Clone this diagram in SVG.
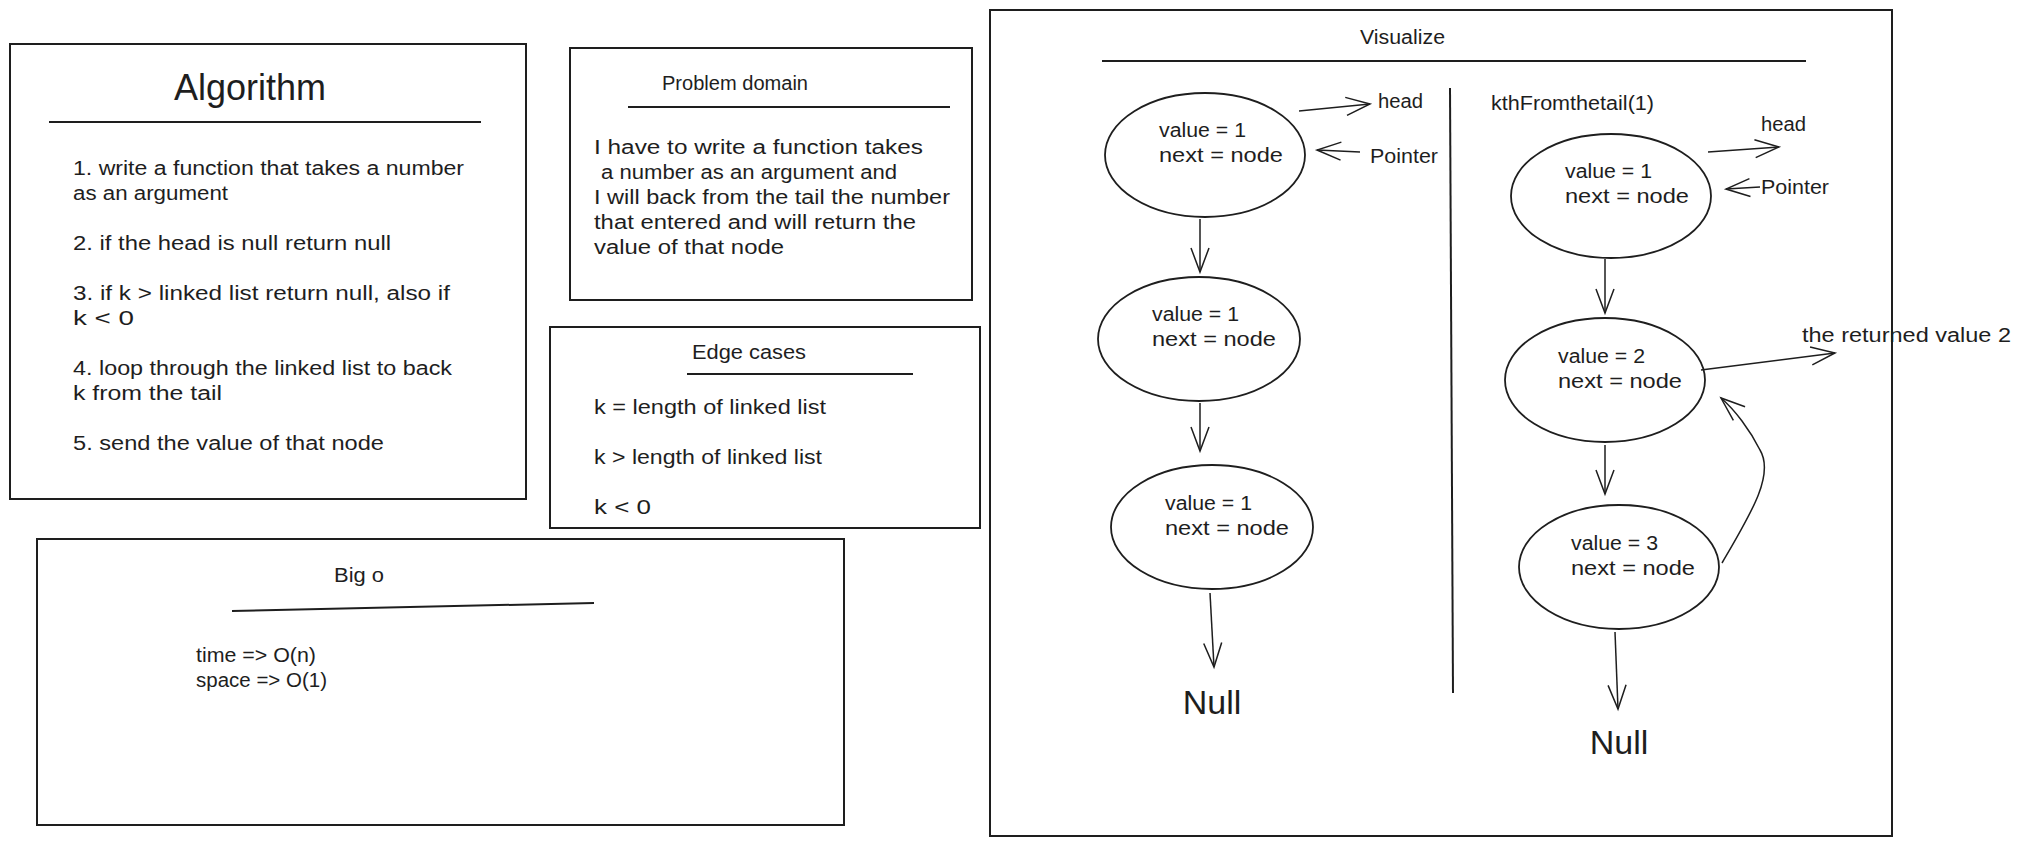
<svg xmlns="http://www.w3.org/2000/svg" width="2021" height="845" viewBox="0 0 2021 845">
<style>
.box{fill:none;stroke:#1e1e1e;stroke-width:2}
.ln{fill:none;stroke:#1e1e1e;stroke-width:2}
.el{fill:none;stroke:#1e1e1e;stroke-width:1.8}
.ar{fill:none;stroke:#1e1e1e;stroke-width:1.5;marker-end:url(#ah)}
text{font-family:"Liberation Sans","DejaVu Sans",sans-serif;fill:#1e1e1e;font-size:20px}
.big{font-size:36px}
.null{font-size:34px}
</style>
<defs>
<marker id="ah" viewBox="-28 -12 32 24" refX="0" refY="0" markerWidth="32" markerHeight="24" markerUnits="userSpaceOnUse" orient="auto">
<path d="M-24,-9 L0,0 L-24,9" fill="none" stroke="#1e1e1e" stroke-width="1.5"/>
</marker>
</defs>
<rect width="2021" height="845" fill="#ffffff"/>

<g id="algorithm">
<rect class="box" x="10" y="44" width="516" height="455"/>
<text class="big" x="174" y="100">Algorithm</text>
<line class="ln" x1="49" y1="122" x2="481" y2="122"/>
<text x="73" y="175" textLength="391" lengthAdjust="spacingAndGlyphs">1. write a function that takes a number</text>
<text x="73" y="200" textLength="155" lengthAdjust="spacingAndGlyphs">as an argument</text>
<text x="73" y="250" textLength="318" lengthAdjust="spacingAndGlyphs">2. if the head is null return null</text>
<text x="73" y="300" textLength="377" lengthAdjust="spacingAndGlyphs">3. if k &gt; linked list return null, also if</text>
<text x="73" y="325" textLength="61" lengthAdjust="spacingAndGlyphs">k &lt; 0</text>
<text x="73" y="375" textLength="379" lengthAdjust="spacingAndGlyphs">4. loop through the linked list to back</text>
<text x="73" y="400" textLength="149" lengthAdjust="spacingAndGlyphs">k from the tail</text>
<text x="73" y="450" textLength="311" lengthAdjust="spacingAndGlyphs">5. send the value of that node</text>
</g>

<g id="problem-domain">
<rect class="box" x="570" y="48" width="402" height="252"/>
<text x="662" y="90" textLength="146" lengthAdjust="spacingAndGlyphs">Problem domain</text>
<line class="ln" x1="628" y1="107" x2="950" y2="107"/>
<text x="594" y="154" textLength="329" lengthAdjust="spacingAndGlyphs">I have to write a function takes</text>
<text x="601" y="179" textLength="296" lengthAdjust="spacingAndGlyphs">a number as an argument and</text>
<text x="594" y="204" textLength="356" lengthAdjust="spacingAndGlyphs">I will back from the tail the number</text>
<text x="594" y="229" textLength="322" lengthAdjust="spacingAndGlyphs">that entered and will return the</text>
<text x="594" y="254" textLength="190" lengthAdjust="spacingAndGlyphs">value of that node</text>
</g>

<g id="edge-cases">
<rect class="box" x="550" y="327" width="430" height="201"/>
<text x="692" y="359" textLength="114" lengthAdjust="spacingAndGlyphs">Edge cases</text>
<line class="ln" x1="687" y1="374" x2="913" y2="374"/>
<text x="594" y="414" textLength="232" lengthAdjust="spacingAndGlyphs">k = length of linked list</text>
<text x="594" y="464" textLength="228" lengthAdjust="spacingAndGlyphs">k &gt; length of linked list</text>
<text x="594" y="514" textLength="57" lengthAdjust="spacingAndGlyphs">k &lt; 0</text>
</g>

<g id="big-o">
<rect class="box" x="37" y="539" width="807" height="286"/>
<text x="334" y="582" textLength="50" lengthAdjust="spacingAndGlyphs">Big o</text>
<line class="ln" x1="232" y1="611" x2="594" y2="603"/>
<text x="196" y="662" textLength="120" lengthAdjust="spacingAndGlyphs">time =&gt; O(n)</text>
<text x="196" y="687" textLength="131" lengthAdjust="spacingAndGlyphs">space =&gt; O(1)</text>
</g>

<g id="visualize">
<rect class="box" x="990" y="10" width="902" height="826"/>
<text x="1360" y="44" textLength="85" lengthAdjust="spacingAndGlyphs">Visualize</text>
<line class="ln" x1="1102" y1="61" x2="1806" y2="61"/>
<line class="ln" x1="1450" y1="88" x2="1453" y2="693"/>
<text x="1491" y="110" textLength="163" lengthAdjust="spacingAndGlyphs">kthFromthetail(1)</text>
</g>

<g id="node-l1">
<ellipse class="el" cx="1205" cy="155" rx="100" ry="62"/>
<text x="1159" y="137" textLength="87" lengthAdjust="spacingAndGlyphs">value = 1</text>
<text x="1159" y="162" textLength="124" lengthAdjust="spacingAndGlyphs">next = node</text>
</g>
<g id="node-l2">
<ellipse class="el" cx="1199" cy="339" rx="101" ry="62"/>
<text x="1152" y="321" textLength="87" lengthAdjust="spacingAndGlyphs">value = 1</text>
<text x="1152" y="346" textLength="124" lengthAdjust="spacingAndGlyphs">next = node</text>
</g>
<g id="node-l3">
<ellipse class="el" cx="1212" cy="527" rx="101" ry="62"/>
<text x="1165" y="510" textLength="87" lengthAdjust="spacingAndGlyphs">value = 1</text>
<text x="1165" y="535" textLength="124" lengthAdjust="spacingAndGlyphs">next = node</text>
</g>
<g id="null-l">
<text class="null" x="1212" y="714" text-anchor="middle">Null</text>
</g>
<g id="label-head-l"><text x="1378" y="108" textLength="45" lengthAdjust="spacingAndGlyphs">head</text></g>
<g id="label-pointer-l"><text x="1370" y="163" textLength="68" lengthAdjust="spacingAndGlyphs">Pointer</text></g>

<g id="node-r1">
<ellipse class="el" cx="1611" cy="196" rx="100" ry="62"/>
<text x="1565" y="178" textLength="87" lengthAdjust="spacingAndGlyphs">value = 1</text>
<text x="1565" y="203" textLength="124" lengthAdjust="spacingAndGlyphs">next = node</text>
</g>
<g id="node-r2">
<ellipse class="el" cx="1605" cy="380" rx="100" ry="62"/>
<text x="1558" y="363" textLength="87" lengthAdjust="spacingAndGlyphs">value = 2</text>
<text x="1558" y="388" textLength="124" lengthAdjust="spacingAndGlyphs">next = node</text>
</g>
<g id="node-r3">
<ellipse class="el" cx="1619" cy="567" rx="100" ry="62"/>
<text x="1571" y="550" textLength="87" lengthAdjust="spacingAndGlyphs">value = 3</text>
<text x="1571" y="575" textLength="124" lengthAdjust="spacingAndGlyphs">next = node</text>
</g>
<g id="null-r">
<text class="null" x="1619" y="754" text-anchor="middle">Null</text>
</g>
<g id="label-head-r"><text x="1761" y="131" textLength="45" lengthAdjust="spacingAndGlyphs">head</text></g>
<g id="label-pointer-r"><text x="1761" y="194" textLength="68" lengthAdjust="spacingAndGlyphs">Pointer</text></g>
<g id="label-returned"><text x="1802" y="342" textLength="209" lengthAdjust="spacingAndGlyphs">the returned value 2</text></g>

<g id="connectors">
<line class="ar" x1="1299" y1="111" x2="1370" y2="104"/>
<line class="ar" x1="1360" y1="152" x2="1317" y2="150"/>
<line class="ar" x1="1200" y1="219" x2="1200" y2="272"/>
<line class="ar" x1="1200" y1="403" x2="1200" y2="451"/>
<line class="ar" x1="1210" y1="593" x2="1214" y2="667"/>
<line class="ar" x1="1708" y1="152" x2="1779" y2="147"/>
<line class="ar" x1="1760" y1="187" x2="1726" y2="189"/>
<line class="ar" x1="1605" y1="259" x2="1605" y2="313"/>
<line class="ar" x1="1701" y1="370" x2="1835" y2="353"/>
<line class="ar" x1="1605" y1="445" x2="1605" y2="494"/>
<line class="ar" x1="1615" y1="632" x2="1618" y2="709"/>
<path class="ar" d="M1722,563 C1750,515 1775,475 1760,450 C1750,430 1735,410 1721,398"/>
</g>
</svg>
